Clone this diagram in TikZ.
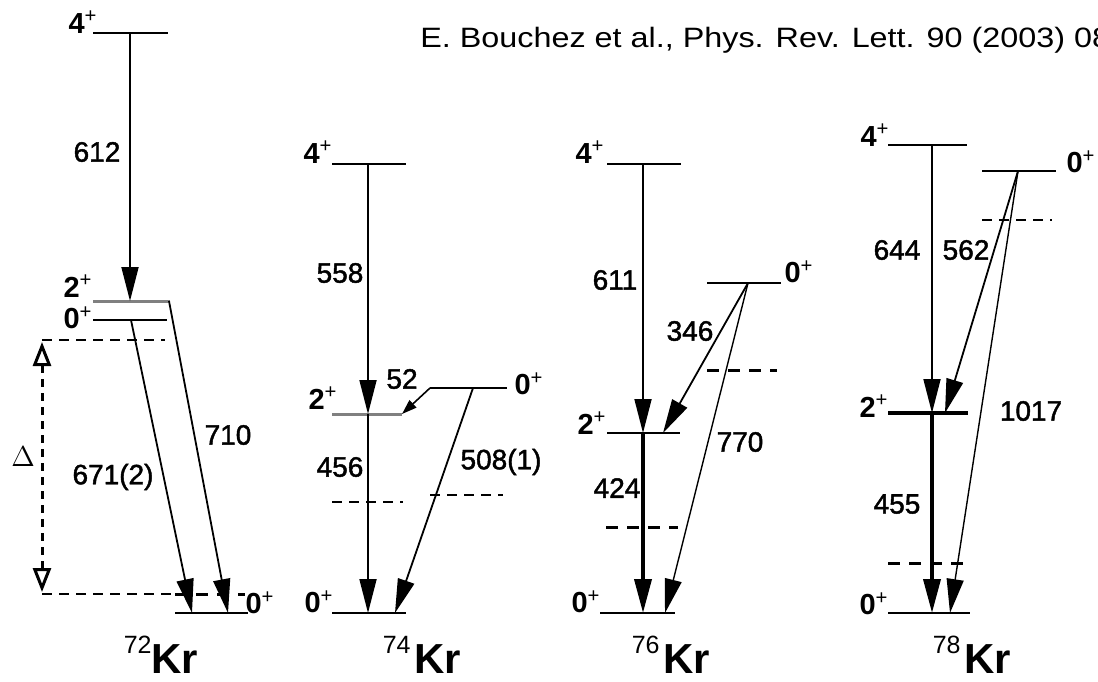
\documentclass[tikz,border=0pt]{standalone}
\usepackage{fontspec}
\setmainfont{Liberation Sans}
\newfontfamily\numfont[FakeBold=1.6]{Liberation Sans}
\usetikzlibrary{arrows.meta}
\newcommand\jp[1]{#1\textsuperscript{\mdseries+}}
\newcommand\mass[1]{\raisebox{10pt}{\fontsize{12.5}{14}\selectfont\mdseries #1}}
\tikzset{
  >={Triangle[length=17pt, width=8.5pt]},
  every picture/.style={line cap=butt, line join=miter},
  lvl/.style={line width=1pt},
  lvlgray/.style={line width=1.5pt, gray},
  lvlthick/.style={line width=1.7pt},
  gam/.style={->, line width=0.9pt},
  gamthin/.style={->, line width=0.7pt},
  gamthick/.style={->, line width=1.9pt},
  gamsmall/.style={-{Triangle[length=7.5pt, width=5pt]}, line width=0.8pt},
  lim/.style={line width=0.7pt, dash pattern=on 5pt off 3.5pt},
  limthick/.style={line width=1.5pt, dash pattern=on 6pt off 4.5pt},
  delta/.style={{Triangle[open, length=12pt, width=9pt]}-{Triangle[open, length=12pt, width=9pt]},
    line width=1.5pt, dash pattern=on 4pt off 3pt},
  spin/.style={font=\fontsize{14.5}{16}\selectfont\bfseries, inner sep=0pt},
  egam/.style={font=\fontsize{14}{16}\selectfont\numfont, inner sep=0pt},
  nucl/.style={font=\fontsize{21}{24}\selectfont\bfseries, inner sep=0pt},
  cite/.style={font=\fontsize{14}{16}\selectfont, inner sep=0pt},
}
\begin{document}
\begin{tikzpicture}[x=0.5pt, y=-0.5pt]
  \useasboundingbox (0,0) rectangle (1098,681);
  \clip (0,0) rectangle (1098,681);
  \node[cite, anchor=base west] (ref) at (420,47) {\scalebox{1.155}[1]{E. Bouchez et al., Phys. Rev. Lett. 90 (2003) 08}};

  % 72Kr
  \draw[lvl] (93,33) -- (168,33);
  \draw[lvlgray] (93,301) -- (170,301);
  \draw[lvl] (93,320) -- (167,320);
  \draw[lvl] (175,613) -- (248,613);
  \draw[lim] (42,340) -- (165,340);
  \draw[lim] (42,594) -- (175,594);
  \draw[limthick] (175,594) -- (245,594);
  \coordinate (a4) at (130,33);
  \coordinate (a2) at (130,301);
  \coordinate (a2r) at (169,301);
  \coordinate (a0) at (131,320);
  \coordinate (ag1) at (192,613);
  \coordinate (ag2) at (228,613);
  \coordinate (dtop) at (42,342);
  \coordinate (dbot) at (42,592);
  \draw[gam] (a4) -- (a2);
  \draw[gam] (a0) -- (ag1);
  \draw[gam] (a2r) -- (ag2);
  \draw[delta] (dtop) -- (dbot);
  \node[spin] (a4l) at (83,22) {\jp{4}};
  \node[spin] (a2l) at (78,286) {\jp{2}};
  \node[spin] (a0l) at (78,318) {\jp{0}};
  \node[spin] (agl) at (260,603) {\jp{0}};
  \node[egam] (e612) at (97,152) {612};
  \node[egam] (e671) at (113,477) {671(2)};
  \node[egam] (e710) at (228,435) {710};
  \node[inner sep=0pt, font=\fontsize{15}{17}\selectfont] (dl) at (23,457) {$\Delta$};
  \node[nucl, anchor=base] (n72) at (161,673) {\mass{72}Kr};

  % 74Kr
  \draw[lvl] (332,164) -- (406,164);
  \draw[lvlgray] (332,414) -- (402,414);
  \draw[lvl] (430,388) -- (507,388);
  \draw[lvl] (332,613) -- (406,613);
  \draw[lim] (332,502) -- (403,502);
  \draw[lim] (430,495) -- (503,495);
  \coordinate (b4) at (368,164);
  \coordinate (b2) at (368,414);
  \coordinate (b2r) at (402,414);
  \coordinate (b0e) at (430,388);
  \coordinate (b0x) at (473,388);
  \coordinate (bg1) at (368,613);
  \coordinate (bg2) at (395,613);
  \draw[gam] (b4) -- (b2);
  \draw[gam] (b2) -- (bg1);
  \draw[gamsmall] (b0e) -- (b2r);
  \draw[gam] (b0x) -- (bg2);
  \node[spin] (b4l) at (318,152) {\jp{4}};
  \node[spin] (b2l) at (323,398) {\jp{2}};
  \node[spin] (b0l) at (529,384) {\jp{0}};
  \node[spin] (bgl) at (319,602) {\jp{0}};
  \node[egam] (e558) at (340,273) {558};
  \node[egam] (e52) at (402,379) {52};
  \node[egam] (e456) at (340,467) {456};
  \node[egam] (e508) at (501,462) {508(1)};
  \node[nucl, anchor=base] (n74) at (422,673) {\mass{74}\kern2pt Kr};

  % 76Kr
  \draw[lvl] (607,164) -- (681,164);
  \draw[lvl] (707,283) -- (781,283);
  \draw[lvl] (607,433) -- (680,433);
  \draw[lvl] (600,613) -- (675,613);
  \draw[limthick] (707,370) -- (777,370);
  \draw[limthick] (606,527) -- (678,527);
  \coordinate (c4) at (643,164);
  \coordinate (c2) at (643,433);
  \coordinate (c2r) at (663,433);
  \coordinate (c0) at (748,283);
  \coordinate (cg1) at (643,613);
  \coordinate (cg2) at (665,613);
  \draw[gam] (c4) -- (c2);
  \draw[gamthick] (c2) -- (cg1);
  \draw[gam] (c0) -- (c2r);
  \draw[gamthin] (c0) -- (cg2);
  \node[spin] (c4l) at (590,152) {\jp{4}};
  \node[spin] (c2l) at (592,423) {\jp{2}};
  \node[spin] (c0l) at (799,272) {\jp{0}};
  \node[spin] (cgl) at (586,602) {\jp{0}};
  \node[egam] (e611) at (615,280) {611};
  \node[egam] (e346) at (690,331) {346};
  \node[egam] (e770) at (740,442) {770};
  \node[egam] (e424) at (617,488) {424};
  \node[nucl, anchor=base] (n76) at (671,673) {\mass{76}\kern2pt Kr};

  % 78Kr
  \draw[lvl] (888,145) -- (967,145);
  \draw[lvl] (982,171) -- (1056,171);
  \draw[lvlthick] (888,413) -- (968,413);
  \draw[lvl] (888,613) -- (970,613);
  \draw[lim] (982,220) -- (1052,220);
  \draw[limthick] (888,563) -- (970,563);
  \coordinate (d4) at (932,145);
  \coordinate (d2) at (932,413);
  \coordinate (d2r) at (945,413);
  \coordinate (d0) at (1018,171);
  \coordinate (dg1) at (932,613);
  \coordinate (dg2) at (950,613);
  \draw[gam] (d4) -- (d2);
  \draw[gamthick] (d2) -- (dg1);
  \draw[gam] (d0) -- (d2r);
  \draw[gamthin] (d0) -- (dg2);
  \node[spin] (d4l) at (875,135) {\jp{4}};
  \node[spin] (d2l) at (874,406) {\jp{2}};
  \node[spin] (d0l) at (1081,162) {\jp{0}};
  \node[spin] (dgl) at (874,604) {\jp{0}};
  \node[egam] (e644) at (897,250) {644};
  \node[egam] (e562) at (966,250) {562};
  \node[egam] (e1017) at (1031,411) {1017};
  \node[egam] (e455) at (897,504) {455};
  \node[nucl, anchor=base] (n78) at (972,673) {\mass{78}\kern2pt Kr};
\end{tikzpicture}
\end{document}
